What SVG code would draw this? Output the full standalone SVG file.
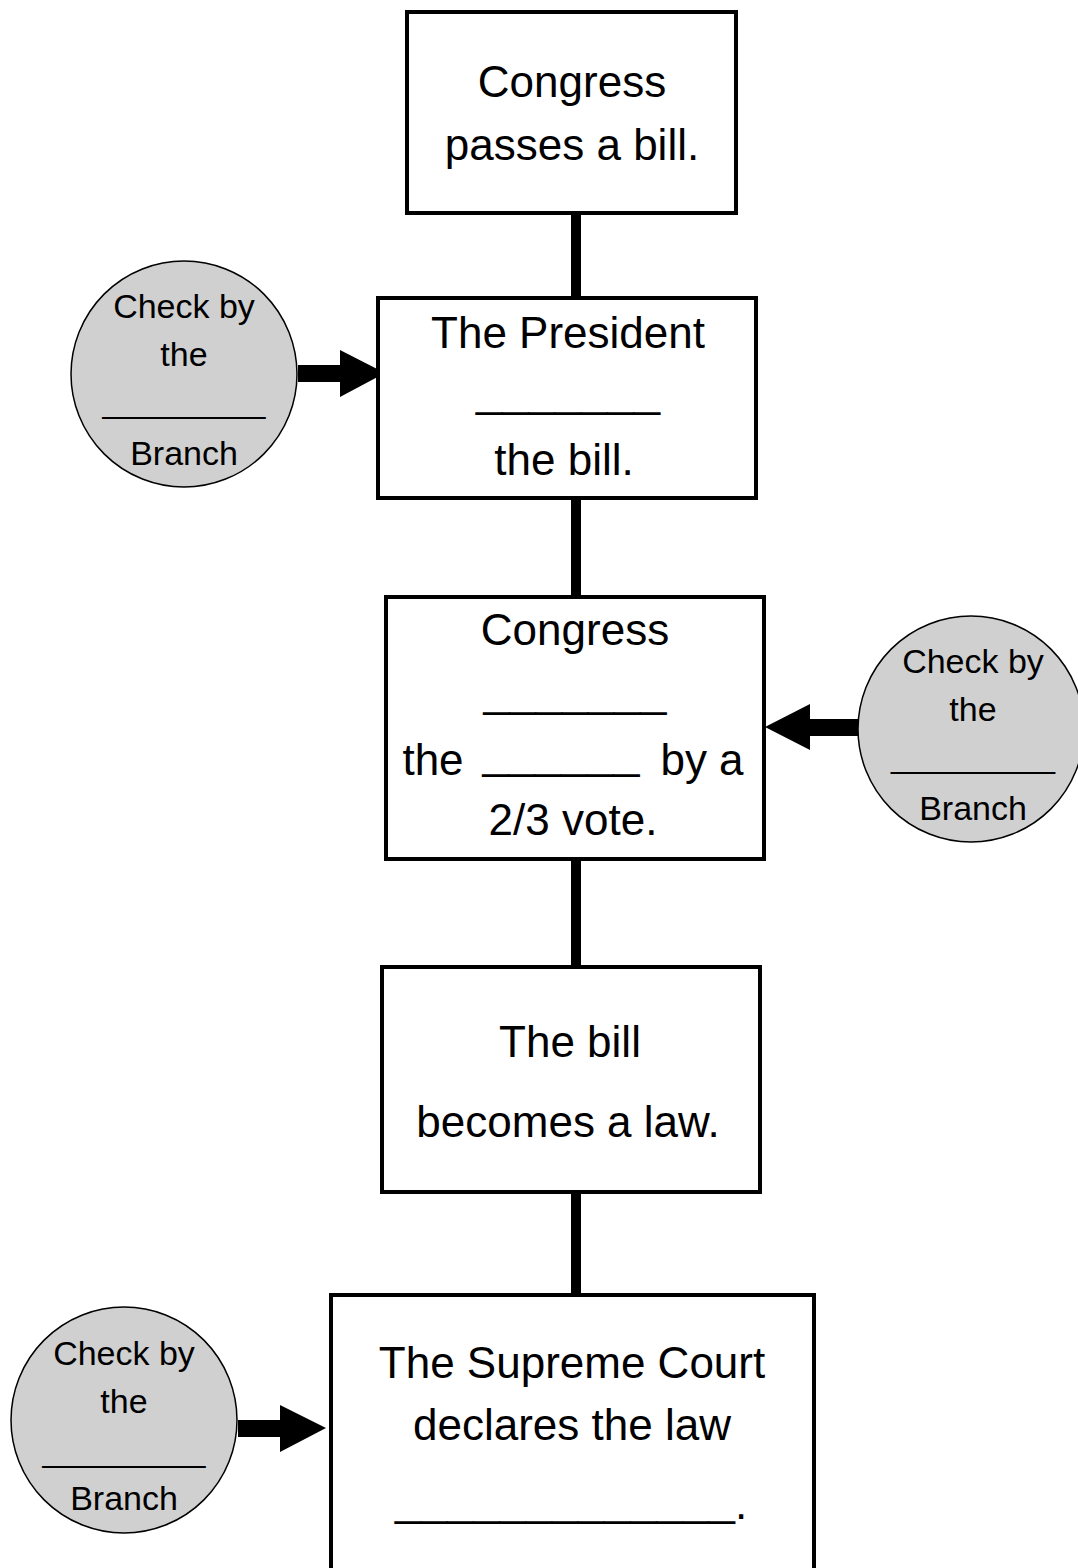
<svg xmlns="http://www.w3.org/2000/svg" width="1078" height="1568" viewBox="0 0 1078 1568">
<style>
.box{fill:#fff;stroke:#000;stroke-width:4}
.circ{fill:#d0d0d0;stroke:#000;stroke-width:1.5}
.t{font-family:"Liberation Sans",Arial,sans-serif;font-size:44px;fill:#000;text-anchor:middle}
.c{font-family:"Liberation Sans",Arial,sans-serif;font-size:34px;fill:#000;text-anchor:middle}
.bar{fill:#000}
</style>
<rect width="1078" height="1568" fill="#fff"/>
<g id="connectors">
<rect class="bar" x="571" y="214" width="10" height="84"/>
<rect class="bar" x="571" y="499" width="10" height="98"/>
<rect class="bar" x="571" y="860" width="10" height="107"/>
<rect class="bar" x="571" y="1193" width="10" height="102"/>
<polygon class="bar" points="298,365 340,365 340,350 385,373 340,397 340,382 298,382"/>
<polygon class="bar" points="858,719 810,719 810,704 765,727 810,750 810,736 858,736"/>
<polygon class="bar" points="238,1420 280,1420 280,1405 326,1428 280,1452 280,1437 238,1437"/>
</g>
<g id="node-congress-passes">
<rect class="box" x="407" y="12" width="329" height="201"/>
<text class="t" x="572" y="97">Congress</text>
<text class="t" x="572" y="160">passes a bill.</text>
</g>
<g id="node-president">
<rect class="box" x="378" y="298" width="378" height="200"/>
<text class="t" x="568" y="348">The President</text>
<text class="t" x="568" y="406" textLength="184" lengthAdjust="spacingAndGlyphs">_______</text>
<text class="t" x="564" y="475">the bill.</text>
</g>
<g id="node-congress-override">
<rect class="box" x="386" y="597" width="378" height="262"/>
<text class="t" x="575" y="645">Congress</text>
<text class="t" x="575" y="706" textLength="183" lengthAdjust="spacingAndGlyphs">_______</text>
<text class="t" x="433" y="775">the</text>
<text class="t" x="561" y="768" textLength="157" lengthAdjust="spacingAndGlyphs">______</text>
<text class="t" x="702" y="775">by a</text>
<text class="t" x="573" y="835">2/3 vote.</text>
</g>
<g id="node-bill-law">
<rect class="box" x="382" y="967" width="378" height="225"/>
<text class="t" x="570" y="1057">The bill</text>
<text class="t" x="568" y="1137">becomes a law.</text>
</g>
<g id="node-supreme-court">
<rect class="box" x="331" y="1295" width="483" height="290"/>
<text class="t" x="572" y="1378">The Supreme Court</text>
<text class="t" x="572" y="1440">declares the law</text>
<text class="t" x="565" y="1515" textLength="340" lengthAdjust="spacingAndGlyphs">_____________</text>
<text class="t" x="741" y="1519">.</text>
</g>
<g id="check-1">
<circle class="circ" cx="184" cy="374" r="113"/>
<text class="c" x="184" y="318">Check by</text>
<text class="c" x="184" y="366">the</text>
<text class="c" x="184" y="412" textLength="163" lengthAdjust="spacingAndGlyphs">________</text>
<text class="c" x="184" y="465">Branch</text>
</g>
<g id="check-2">
<circle class="circ" cx="971" cy="729" r="113"/>
<text class="c" x="973" y="673">Check by</text>
<text class="c" x="973" y="721">the</text>
<text class="c" x="973" y="767" textLength="164" lengthAdjust="spacingAndGlyphs">________</text>
<text class="c" x="973" y="820">Branch</text>
</g>
<g id="check-3">
<circle class="circ" cx="124" cy="1420" r="113"/>
<text class="c" x="124" y="1365">Check by</text>
<text class="c" x="124" y="1413">the</text>
<text class="c" x="124" y="1461" textLength="163" lengthAdjust="spacingAndGlyphs">________</text>
<text class="c" x="124" y="1510">Branch</text>
</g>
</svg>
